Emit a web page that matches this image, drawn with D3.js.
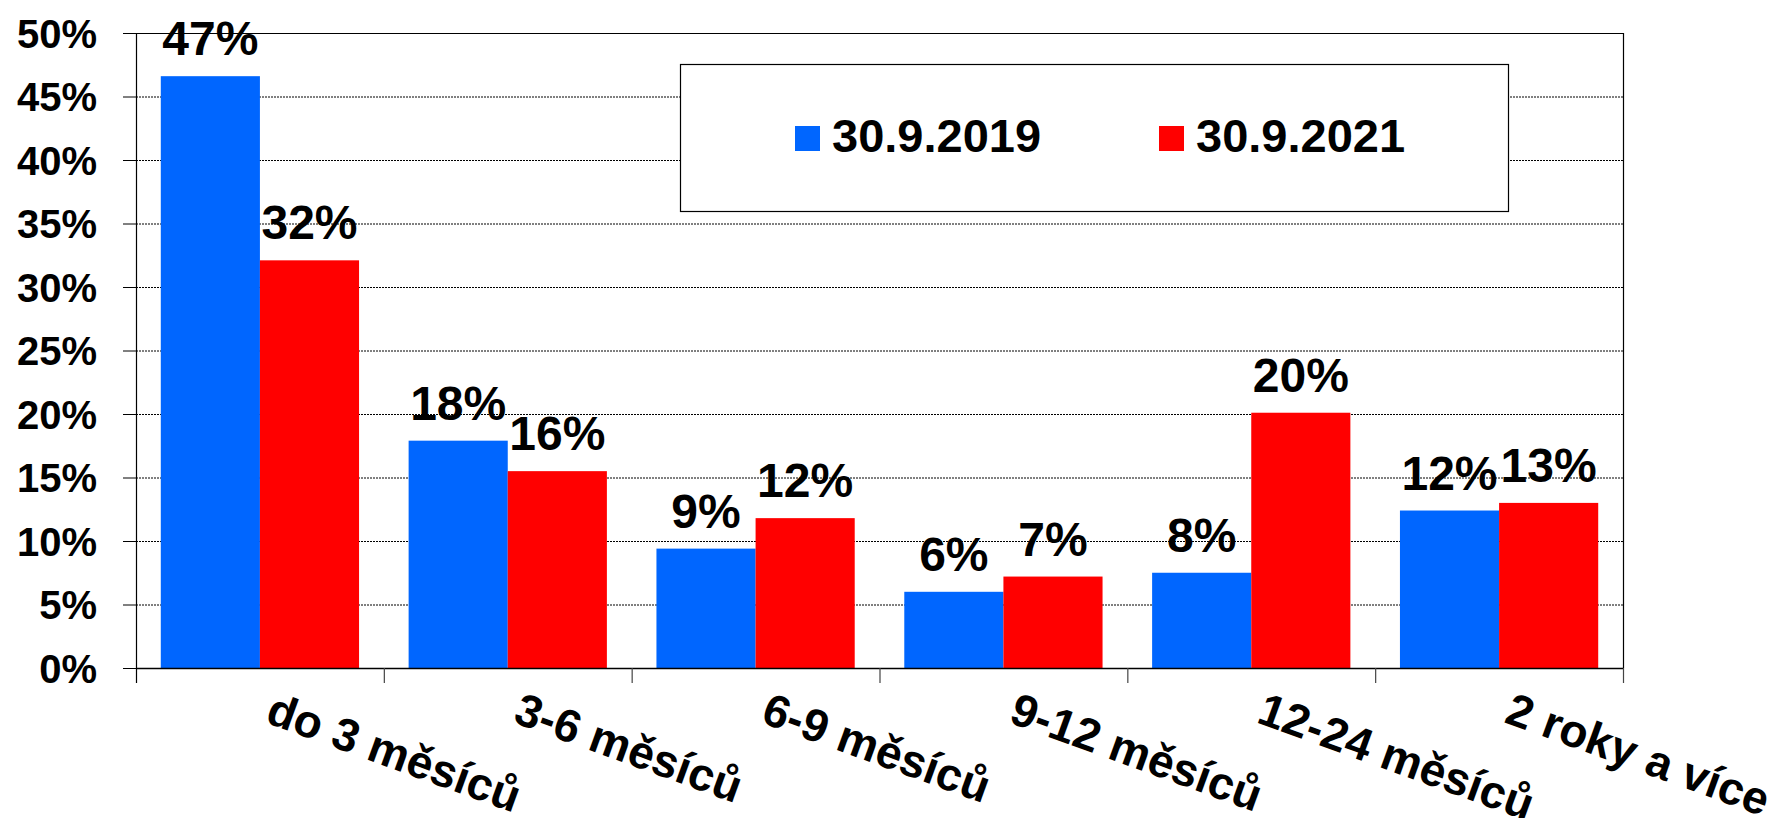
<!DOCTYPE html>
<html>
<head>
<meta charset="utf-8">
<script src="https://cdn.jsdelivr.net/npm/d3@7/dist/d3.min.js"></script>
<style>
  html, body { margin: 0; padding: 0; background: #fff; }
  svg { display: block; font-family: "Liberation Sans", Arial, sans-serif; font-weight: bold; }
</style>
</head>
<body>
<svg id="chart" width="1775" height="818"></svg>
<script>
const categories = ["do 3 měsíců", "3-6 měsíců", "6-9 měsíců", "9-12 měsíců", "12-24 měsíců", "2 roky a více"];
const seriesNames = ["30.9.2019", "30.9.2021"];
const values2019 = [0.466, 0.179, 0.094, 0.060, 0.075, 0.124];
const values2021 = [0.321, 0.155, 0.118, 0.072, 0.201, 0.130];
const labels2019 = ["47%", "18%", "9%", "6%", "8%", "12%"];
const labels2021 = ["32%", "16%", "12%", "7%", "20%", "13%"];
const yTicks = [0, 0.05, 0.10, 0.15, 0.20, 0.25, 0.30, 0.35, 0.40, 0.45, 0.50];
const colors = ["#0066FF", "#FF0000"];

(function () {
const svg = d3.select("#chart");
const pL = 136, pR = 1623, pT = 33, pB = 668;

const x0 = d3.scaleBand().domain(categories).range([pL, pR]).paddingInner(0).paddingOuter(0);
const bw = x0.bandwidth();
const x1 = d3.scaleBand().domain(seriesNames).range([bw * 0.1, bw * 0.9]);
const y = d3.scaleLinear().domain([0, 0.5]).range([pB, pT]);

// gridlines
svg.append("g").selectAll("line").data(yTicks.filter(t => t > 0 && t < 0.5)).join("line")
  .attr("x1", pL).attr("x2", pR)
  .attr("y1", d => y(d) + 0.5).attr("y2", d => y(d) + 0.5)
  .attr("stroke", "#000").attr("stroke-width", 1).attr("stroke-dasharray", "2,1");

// plot border top/right
svg.append("line").attr("x1", pL).attr("x2", pR).attr("y1", pT + 0.5).attr("y2", pT + 0.5)
  .attr("stroke", "#000").attr("stroke-width", 1.2);
svg.append("line").attr("x1", pR + 0.5).attr("x2", pR + 0.5).attr("y1", pT).attr("y2", pB)
  .attr("stroke", "#000").attr("stroke-width", 1.2);

// bars
const data = categories.map((c, i) => ({ c, vals: [values2019[i], values2021[i]], labs: [labels2019[i], labels2021[i]] }));
const groups = svg.append("g").selectAll("g").data(data).join("g")
  .attr("transform", d => `translate(${x0(d.c)},0)`);
groups.selectAll("rect").data(d => d.vals.map((v, k) => ({ v, k }))).join("rect")
  .attr("x", d => x1(seriesNames[d.k]))
  .attr("width", x1.bandwidth())
  .attr("y", d => y(d.v))
  .attr("height", d => y(0) - y(d.v))
  .attr("fill", d => colors[d.k]);
groups.selectAll("text").data(d => d.vals.map((v, k) => ({ v, k, lab: d.labs[k] }))).join("text")
  .attr("x", d => x1(seriesNames[d.k]) + x1.bandwidth() / 2)
  .attr("y", d => y(d.v) - 21)
  .attr("text-anchor", "middle")
  .attr("font-size", 48)
  .attr("fill", "#000")
  .text(d => d.lab);

// y axis
const yAxis = d3.axisLeft(y).tickValues(yTicks).tickFormat(d3.format(".0%")).tickSize(13).tickPadding(26);
const gy = svg.append("g").attr("transform", `translate(${pL},0)`).call(yAxis);
gy.select(".domain").attr("d", `M0.5,${pT}V${pB + 15}`).attr("stroke", "#000").attr("stroke-width", 1.2);
gy.selectAll(".tick line").attr("stroke", "#000");
gy.selectAll(".tick text").attr("font-size", 40).attr("font-weight", "bold")
  .attr("font-family", '"Liberation Sans", Arial, sans-serif').attr("fill", "#000").attr("dy", "0.36em");

// x axis line and ticks
svg.append("line").attr("x1", pL).attr("x2", pR).attr("y1", pB + 0.5).attr("y2", pB + 0.5)
  .attr("stroke", "#000").attr("stroke-width", 1.5);
const bounds = categories.map(c => x0(c)).concat([pR]);
svg.append("g").selectAll("line").data(bounds.slice(1)).join("line")
  .attr("x1", d => d + 0.5).attr("x2", d => d + 0.5).attr("y1", pB).attr("y2", pB + 15)
  .attr("stroke", "#444").attr("stroke-width", 1.2);

// category labels
svg.append("g").selectAll("text").data(categories).join("text")
  .attr("transform", c => `translate(${x0(c) + bw / 2 + 4},722) rotate(20)`)
  .attr("font-size", 46)
  .attr("fill", "#000")
  .text(c => c);

// legend
const lg = svg.append("g");
lg.append("rect").attr("x", 680.5).attr("y", 64.5).attr("width", 828).attr("height", 147)
  .attr("fill", "#fff").attr("stroke", "#000").attr("stroke-width", 1.2);
const legendX = [795, 1159];
seriesNames.forEach((s, i) => {
  lg.append("rect").attr("x", legendX[i]).attr("y", 126).attr("width", 25).attr("height", 25).attr("fill", colors[i]);
  lg.append("text").attr("x", legendX[i] + 37).attr("y", 152).attr("font-size", 47).attr("fill", "#000").text(s);
});
})();
</script>
</body>
</html>
